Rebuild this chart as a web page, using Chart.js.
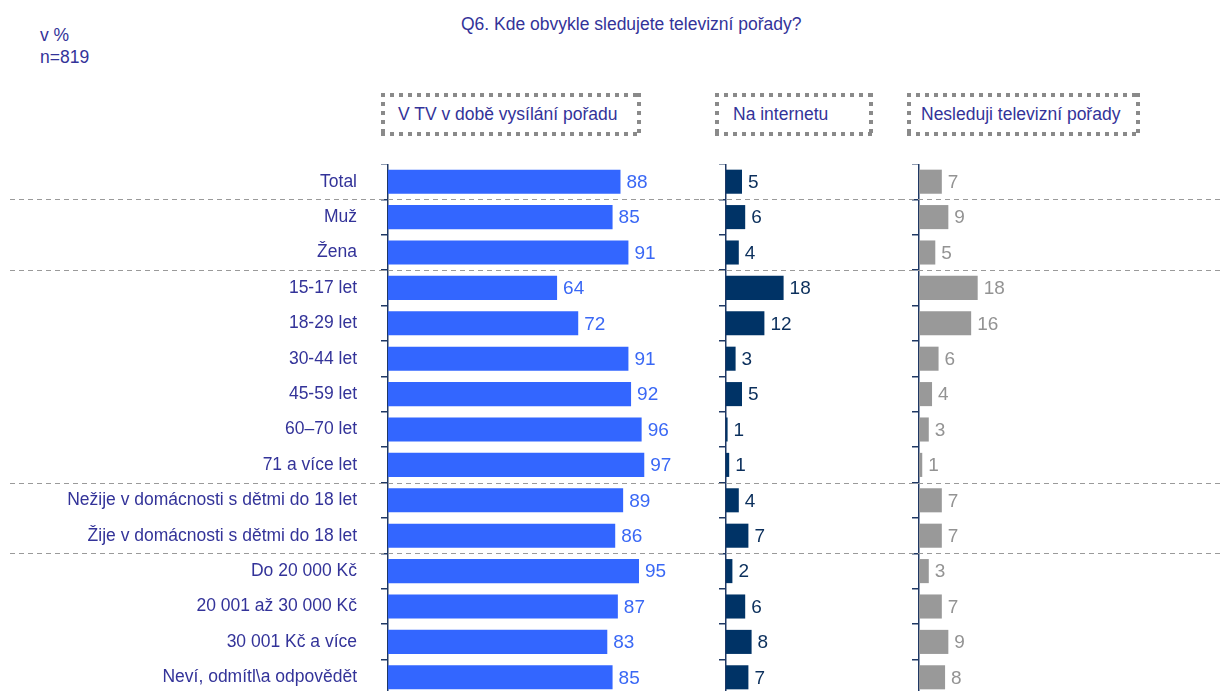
<!DOCTYPE html>
<html>
<head>
<meta charset="utf-8">
<script src="https://cdn.jsdelivr.net/npm/chart.js@4.4.0/dist/chart.umd.min.js"></script>
<style>
  html, body { margin: 0; padding: 0; overflow: hidden; background: #fff; }
  body { width: 1221px; height: 691px; position: relative; font-family: "Liberation Sans", Arial, sans-serif; color: #333399; }
  .txt { position: absolute; font-size: 17.5px; line-height: 22px; white-space: nowrap; }
  .box {
    position: absolute; top: 93px; height: 43px; box-sizing: border-box;
    display: flex; align-items: center; justify-content: flex-start;
    font-size: 17.5px; white-space: nowrap;
    background:
      linear-gradient(90deg, #8a8a8a 4px, transparent 4px) 0 0 / 9px 4px repeat-x,
      linear-gradient(90deg, #8a8a8a 4px, transparent 4px) 0 100% / 9px 4px repeat-x,
      linear-gradient(180deg, #8a8a8a 4px, transparent 4px) 0 0 / 4px 9px repeat-y,
      linear-gradient(180deg, #8a8a8a 4px, transparent 4px) 100% 0 / 4px 9px repeat-y;
  }
  canvas { position: absolute; top: 164px; }
</style>
</head>
<body>
<div class="txt" style="left:40px;top:24px">v %</div>
<div class="txt" style="left:40px;top:46px">n=819</div>
<div class="txt" style="left:461px;top:13px">Q6. Kde obvykle sledujete televizní pořady?</div>

<div class="box" id="h1" style="left:381px;width:260px;padding-left:17px"></div>
<div class="box" id="h2" style="left:715px;width:158px;padding-left:18px"></div>
<div class="box" id="h3" style="left:907px;width:233px;padding-left:14px"></div>

<canvas id="c1" width="700" height="531" style="left:0"></canvas>
<canvas id="c2" width="200" height="531" style="left:700px"></canvas>
<canvas id="c3" width="321" height="531" style="left:900px"></canvas>

<script>
const categories = [
  'Total', 'Muž', 'Žena',
  '15-17 let', '18-29 let', '30-44 let', '45-59 let', '60–70 let', '71 a více let',
  'Nežije v domácnosti s dětmi do 18 let', 'Žije v domácnosti s dětmi do 18 let',
  'Do 20 000 Kč', '20 001 až 30 000 Kč', '30 001 Kč a více', 'Neví, odmítl\\a odpovědět'
];
const seriesNames = ['V TV v době vysílání pořadu', 'Na internetu', 'Nesleduji televizní pořady'];
const tvValues = [88, 85, 91, 64, 72, 91, 92, 96, 97, 89, 86, 95, 87, 83, 85];
const netValues = [5, 6, 4, 18, 12, 3, 5, 0.5, 1, 4, 7, 2, 6, 8, 7];
const noneValues = [7, 9, 5, 18, 16, 6, 4, 3, 1, 7, 7, 3, 7, 9, 8];
// last category of each group that is followed by a dashed separator
const groupEnds = [0, 2, 8, 10];

const FONT = '"Liberation Sans", Arial, sans-serif';
const AXIS = '#1f3864';

document.getElementById('h1').textContent = seriesNames[0];
document.getElementById('h2').textContent = seriesNames[1];
document.getElementById('h3').textContent = seriesNames[2];

// dashed lines between the groups of rows
const separators = {
  id: 'separators',
  beforeDatasetsDraw(chart, args, opts) {
    const ctx = chart.ctx;
    const y = chart.scales.y;
    ctx.save();
    ctx.strokeStyle = '#9a9a9a';
    ctx.lineWidth = 1;
    ctx.setLineDash([5, 4]);
    groupEnds.forEach(i => {
      const py = Math.round((y.getPixelForValue(i) + y.getPixelForValue(i + 1)) / 2) + 0.5;
      ctx.beginPath();
      ctx.moveTo(opts.start || 0, py);
      ctx.lineTo(chart.width, py);
      ctx.stroke();
    });
    ctx.restore();
  }
};

// number next to each bar
const valueLabels = {
  id: 'valueLabels',
  afterDatasetsDraw(chart, args, opts) {
    const ctx = chart.ctx;
    const ds = chart.data.datasets[0];
    ctx.save();
    ctx.font = '19px ' + FONT;
    ctx.fillStyle = opts.color;
    ctx.textBaseline = 'middle';
    chart.getDatasetMeta(0).data.forEach((bar, i) => {
      ctx.fillText(Math.round(ds.data[i]), bar.x + 6, bar.y + 1);
    });
    ctx.restore();
  }
};

function makeChart(id, values, color, labelColor, axisWidth, max, padRight, showLabels, lineStart) {
  return new Chart(document.getElementById(id), {
    type: 'bar',
    data: {
      labels: categories,
      datasets: [{
        data: values,
        backgroundColor: color,
        borderWidth: 0,
        barPercentage: 0.68,
        categoryPercentage: 1
      }]
    },
    options: {
      indexAxis: 'y',
      responsive: false,
      animation: false,
      layout: { padding: { top: 0, bottom: 0, left: 0, right: padRight } },
      scales: {
        x: { display: false, min: 0, max: max },
        y: {
          afterFit: s => { s.width = axisWidth; s.paddingTop = 0; s.paddingBottom = 0; },
          border: { color: AXIS, width: 1.5 },
          grid: { offset: true, drawOnChartArea: false, color: AXIS, tickLength: 7, lineWidth: 1.5 },
          ticks: {
            display: showLabels,
            autoSkip: false,
            padding: 24,
            color: '#333399',
            font: { family: FONT, size: 17.5 }
          }
        }
      },
      plugins: {
        legend: { display: false },
        tooltip: { enabled: false },
        separators: { start: lineStart },
        valueLabels: { color: labelColor }
      }
    },
    plugins: [separators, valueLabels]
  });
}

makeChart('c1', tvValues, '#3366ff', '#3a68f5', 388, 100, 700 - 388 - 264.2, true, 10);
makeChart('c2', netValues, '#003366', '#0b2f5c', 26, 50, 200 - 26 - 160, false, 0);
makeChart('c3', noneValues, '#999999', '#939393', 19, 50, 321 - 19 - 163, false, 0);
</script>
</body>
</html>
